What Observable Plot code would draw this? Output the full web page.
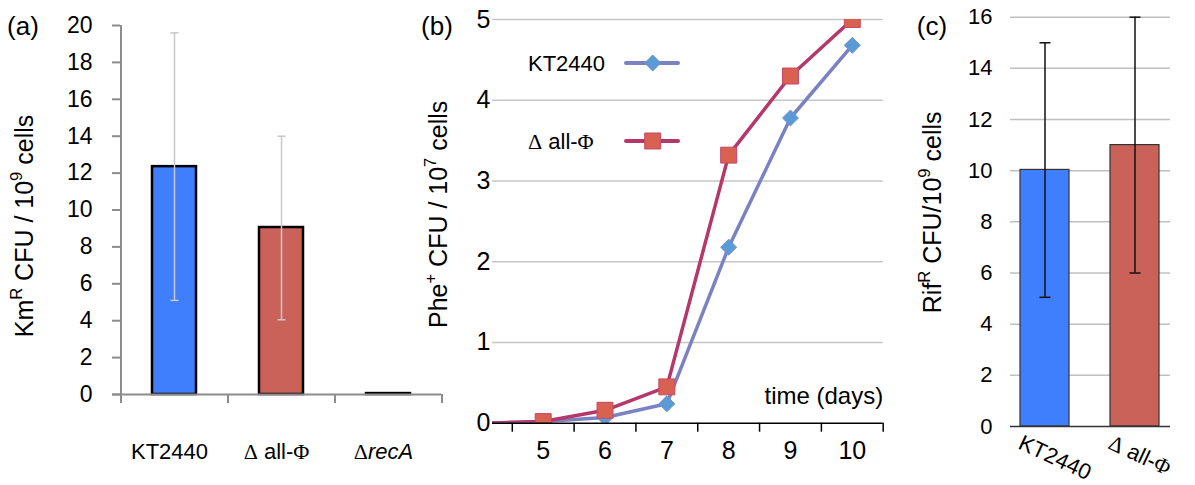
<!DOCTYPE html>
<html>
<head>
<meta charset="utf-8">
<script src="https://cdn.jsdelivr.net/npm/d3@7"></script>
<script src="https://cdn.jsdelivr.net/npm/@observablehq/plot@0.6"></script>
<style>
  body { margin: 0; background: #fff; }
  #wrap { position: relative; width: 1195px; height: 485px; font-family: "Liberation Sans", Arial, sans-serif; }
  #wrap svg { position: absolute; top: 0; overflow: visible; background: transparent; }
</style>
</head>
<body>
<div id="wrap"></div>
<script>
// ---------- data ----------
// (a) KmR CFU / 10^9 cells
const strainsA = ["KT2440", "Δ all-Φ", "ΔrecA"];
const kmValues = [12.35, 9.05, 0.05];
const kmErrLow = [5.1, 4.05, null];
const kmErrHigh = [19.6, 14.0, null];
const yTicksA = [0, 2, 4, 6, 8, 10, 12, 14, 16, 18, 20];

// (b) Phe+ CFU / 10^7 cells over time
const days = [4, 5, 6, 7, 8, 9, 10];
const pheKT2440 = [0, 0.02, 0.07, 0.24, 2.18, 3.78, 4.68];
const pheAllPhi = [0, 0.02, 0.16, 0.45, 3.32, 4.30, 5.0];
const dayLabels = [5, 6, 7, 8, 9, 10];
const dayBoundaries = [4.5, 5.5, 6.5, 7.5, 8.5, 9.5, 10.5];
const yTicksB = [0, 1, 2, 3, 4, 5];
const seriesB = ["KT2440", "Δ all-Φ"];

// (c) RifR CFU / 10^9 cells
const strainsC = ["KT2440", "Δ all-Φ"];
const rifValues = [10.03, 11.0];
const rifErrLow = [5.05, 6.0];
const rifErrHigh = [15.0, 16.0];
const yTicksC = [0, 2, 4, 6, 8, 10, 12, 14, 16];

// ---------- styling ----------
const FONT = '"Liberation Sans", Arial, sans-serif';
const SERIF = '"Liberation Serif", "Times New Roman", serif';
const BLUE = "#3f7ffd", RED = "#cb6259";
const GREY_AXIS = "#8c8c8c";

// horizontal error-bar cap symbol: half-width = r
const capSymbol = {
  draw(ctx, size) {
    const r = Math.sqrt(size / Math.PI);
    ctx.moveTo(-r, 0);
    ctx.lineTo(r, 0);
  }
};

const wrap = document.getElementById("wrap");

// rich text: {x} superscript, [x] italic, Δ / Φ in serif
function rich(el, src) {
  const size = parseFloat(getComputedStyle(el).fontSize) || 22;
  el.textContent = "";
  const re = /\{([^}]*)\}|\[([^\]]*)\]|([ΔΦ])|([^{\[ΔΦ]+)/g;
  let m, shift = 0;
  while ((m = re.exec(src))) {
    const t = d3.select(el).append("tspan");
    if (m[1] != null) {
      t.text(m[1]).attr("font-size", size * 0.66).attr("dy", -size * 0.42);
      shift = size * 0.42;
    } else {
      if (shift) { t.attr("dy", shift); shift = 0; }
      if (m[2] != null) t.text(m[2]).attr("font-style", "italic");
      else if (m[3] != null) t.text(m[3]).attr("font-family", SERIF);
      else t.text(m[4]);
    }
  }
}
const markup = {"ΔrecA": "Δ[recA]"};
function richify(svg) {
  svg.querySelectorAll("text").forEach(el => {
    const s = el.textContent;
    if (/[{\[ΔΦ]/.test(s)) rich(el, markup[s] || s);
  });
}
function place(svg, left) {
  svg.style.left = left + "px";
  wrap.appendChild(svg);
}
function panelLabel(svg, x, txt) {
  d3.select(svg).append("text").attr("x", x).attr("y", 35)
    .attr("text-anchor", "middle").attr("font-size", 26).attr("font-family", FONT)
    .attr("fill", "#000").text(txt);
}

// ---------- (a) ----------
const dataA = strainsA.map((s, i) => ({strain: s, value: kmValues[i], lo: kmErrLow[i], hi: kmErrHigh[i]}));
const errA = dataA.filter(d => d.lo != null);
const halfA = 53.5;
const plotA = Plot.plot({
  width: 450, height: 485,
  marginLeft: 120, marginRight: 9, marginTop: 25, marginBottom: 91,
  style: {fontFamily: FONT, fontSize: "23px", color: "#000", background: "transparent", overflow: "visible"},
  x: {domain: strainsA, paddingInner: 0.59, paddingOuter: 0.295, axis: null, label: null},
  y: {domain: [0, 20], label: null},
  color: {domain: strainsA, range: [BLUE, RED, RED]},
  marks: [
    Plot.ruleX([strainsA[0]], {dx: -halfA, stroke: GREY_AXIS, strokeWidth: 2}),
    Plot.axisY({ticks: yTicksA, tickSize: 8, tickPadding: 20, stroke: GREY_AXIS, strokeWidth: 2, fontSize: 23, label: null}),
    Plot.barY(dataA, {x: "strain", y: "value", fill: "strain", stroke: "#000", strokeWidth: 2.5}),
    Plot.ruleX(errA, {x: "strain", y1: "lo", y2: "hi", stroke: "#c8c8c8", strokeWidth: 1.5}),
    Plot.dot(errA, {x: "strain", y: "lo", symbol: capSymbol, r: 4, stroke: "#c8c8c8", strokeWidth: 1.5}),
    Plot.dot(errA, {x: "strain", y: "hi", symbol: capSymbol, r: 4, stroke: "#c8c8c8", strokeWidth: 1.5}),
    Plot.ruleY([0], {stroke: GREY_AXIS, strokeWidth: 2, insetLeft: -8}),
    Plot.ruleX(strainsA, {dx: -halfA, y1: 0, y2: -0.49, stroke: GREY_AXIS, strokeWidth: 2}),
    Plot.ruleX([strainsA[strainsA.length - 1]], {dx: halfA, y1: 0, y2: -0.49, stroke: GREY_AXIS, strokeWidth: 2}),
    Plot.text(strainsA, {x: d => d, frameAnchor: "bottom", text: d => d, dy: 57, dx: -5,
      textAnchor: "middle", lineAnchor: "middle", fontSize: 22, fill: "#000"}),
    Plot.text(["Km{R} CFU / 10{9} cells"], {frameAnchor: "left", text: d => d, rotate: -90, dx: -96, dy: 16,
      textAnchor: "middle", lineAnchor: "middle", fontSize: 25, fill: "#000"})
  ]
});
place(plotA, 0);
panelLabel(plotA, 23, "(a)");
richify(plotA);

// ---------- (b) ----------
const lineKT = days.map((d, i) => ({day: d, value: pheKT2440[i]}));
const lineAll = days.map((d, i) => ({day: d, value: pheAllPhi[i]}));
const LINE_KT = "#7b82c2", DOT_KT = "#5b9bd5";
const LINE_ALL = "#b5386b", DOT_ALL = "#d9614f";
const plotB = Plot.plot({
  width: 500, height: 485,
  marginLeft: 92, marginRight: 17.3, marginTop: 19, marginBottom: 62.3,
  style: {fontFamily: FONT, fontSize: "25px", color: "#000", background: "transparent", overflow: "visible"},
  x: {domain: [4.18, 10.5], label: null},
  y: {domain: [0, 5], label: null},
  marks: [
    Plot.gridY(yTicksB.filter(v => v > 0), {stroke: "#c6c6c6", strokeOpacity: 1, strokeWidth: 1.5}),
    Plot.axisY({ticks: yTicksB, tickFormat: d => String(d), tickSize: 0, tickPadding: 2, fontSize: 25, label: null}),
    Plot.lineY(lineKT, {x: "day", y: "value", stroke: LINE_KT, strokeWidth: 3.5, clip: true}),
    Plot.dot(lineKT, {x: "day", y: "value", symbol: "diamond2", r: 7.2, fill: DOT_KT, stroke: "#6f95cf", strokeWidth: 1, clip: true}),
    Plot.lineY(lineAll, {x: "day", y: "value", stroke: LINE_ALL, strokeWidth: 3.5, clip: true}),
    Plot.dot(lineAll, {x: "day", y: "value", symbol: "square", r: 9, fill: DOT_ALL, stroke: "#c4476a", strokeWidth: 1, clip: true}),
    Plot.ruleY([0], {stroke: "#000", strokeWidth: 1.5}),
    Plot.axisX({ticks: dayBoundaries, tickFormat: () => "", tickSize: 9, stroke: "#000", strokeWidth: 1.5, label: null}),
    Plot.axisX({ticks: dayLabels, tickFormat: d => String(d), tickSize: 0, tickPadding: 18, fontSize: 25, label: null}),
    Plot.text(["time (days)"], {frameAnchor: "bottom-right", text: d => d, textAnchor: "end", lineAnchor: "middle",
      dy: -26.4, fontSize: 24, fill: "#000"}),
    Plot.text(["Phe{+} CFU / 10{7} cells"], {frameAnchor: "left", text: d => d, rotate: -90, dx: -54, dy: -7,
      textAnchor: "middle", lineAnchor: "middle", fontSize: 25, fill: "#000"})
  ]
});
place(plotB, 400);
panelLabel(plotB, 37, "(b)");
// legend
{
  const g = d3.select(plotB).append("g").attr("font-family", FONT).attr("font-size", 22).attr("text-anchor", "start");
  const rows = [
    {name: seriesB[0], y: 63, line: LINE_KT, fill: DOT_KT, stroke: "#6f95cf", sym: d3.symbolDiamond2, size: Math.PI * 7.2 * 7.2},
    {name: seriesB[1], y: 141, line: LINE_ALL, fill: DOT_ALL, stroke: "#c4476a", sym: d3.symbolSquare, size: Math.PI * 9 * 9}
  ];
  rows.forEach(r => {
    g.append("line").attr("x1", 226).attr("x2", 278).attr("y1", r.y).attr("y2", r.y)
      .attr("stroke", r.line).attr("stroke-width", 4).attr("stroke-linecap", "round");
    g.append("path").attr("d", d3.symbol(r.sym, r.size)()).attr("transform", `translate(252.7,${r.y})`)
      .attr("fill", r.fill).attr("stroke", r.stroke);
    g.append("text").attr("x", 128).attr("y", r.y).attr("dy", "0.35em").attr("fill", "#000").text(r.name);
  });
}
richify(plotB);

// ---------- (c) ----------
const dataC = strainsC.map((s, i) => ({strain: s, value: rifValues[i], lo: rifErrLow[i], hi: rifErrHigh[i]}));
const plotC = Plot.plot({
  width: 295, height: 485,
  marginLeft: 110, marginRight: 25, marginTop: 16.7, marginBottom: 59,
  style: {fontFamily: FONT, fontSize: "22px", color: "#000", background: "transparent", overflow: "visible"},
  x: {domain: strainsC, paddingInner: 0.451, paddingOuter: 0.105, axis: null, label: null},
  y: {domain: [0, 16], label: null},
  color: {domain: strainsC, range: [BLUE, RED]},
  marks: [
    Plot.gridY(yTicksC.filter(v => v > 0), {stroke: "#c0c0c0", strokeOpacity: 1, strokeWidth: 1.5}),
    Plot.axisY({ticks: yTicksC, tickSize: 0, tickPadding: 18, fontSize: 22, label: null}),
    Plot.barY(dataC, {x: "strain", y: "value", fill: "strain", stroke: "#333", strokeWidth: 1.2}),
    Plot.ruleX(dataC, {x: "strain", y1: "lo", y2: "hi", stroke: "#111", strokeWidth: 1.5}),
    Plot.dot(dataC, {x: "strain", y: "lo", symbol: capSymbol, r: 5.5, stroke: "#111", strokeWidth: 1.5}),
    Plot.dot(dataC, {x: "strain", y: "hi", symbol: capSymbol, r: 5.5, stroke: "#111", strokeWidth: 1.5}),
    Plot.ruleY([0], {stroke: "#333", strokeWidth: 1.5}),
    Plot.text(strainsC, {x: d => d, frameAnchor: "bottom", text: d => d, rotate: 25, dx: -25, dy: 15,
      textAnchor: "start", lineAnchor: "middle", fontSize: 22, fill: "#000"}),
    Plot.text(["Rif{R} CFU/10{9} cells"], {frameAnchor: "left", text: d => d, rotate: -90, dx: -78, dy: -9.5,
      textAnchor: "middle", lineAnchor: "middle", fontSize: 25, fill: "#000"})
  ]
});
place(plotC, 900);
panelLabel(plotC, 32, "(c)");
richify(plotC);
</script>
</body>
</html>
